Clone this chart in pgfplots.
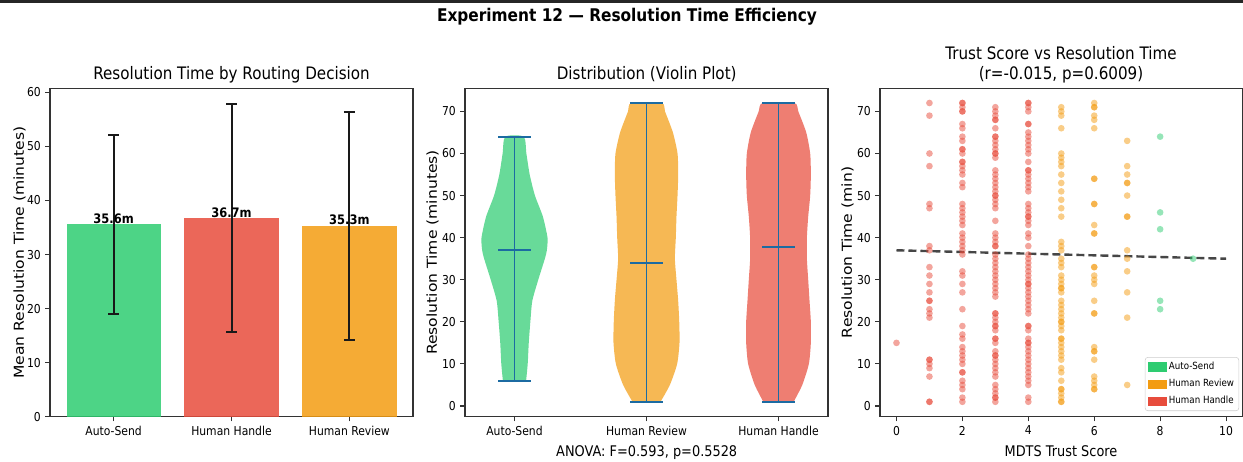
\documentclass[border=0pt]{standalone}
\usepackage{pgfplots}
\usepackage{pgfplotstable}
\pgfplotsset{compat=1.18}
\usepackage{graphicx}
\usepackage{fontspec}
\setmainfont{DejaVu Sans}[FakeStretch=0.88]
\newfontfamily\upfont{DejaVu Sans}
\definecolor{cgreen}{HTML}{2ECC71}
\definecolor{cred}{HTML}{E74C3C}
\definecolor{corange}{HTML}{F39C12}
\definecolor{cblue}{HTML}{1F77B4}
\newcommand\fs[1]{\fontsize{#1pt}{#1pt}\selectfont}

% violin outlines: resolution time y and signed half width s (x units),
% up the right side and back down the left side
\pgfplotstableread{
y s
6 0.088
10 0.100
15 0.108
20 0.120
25 0.135
30 0.180
35 0.230
37 0.245
40 0.250
45 0.215
50 0.155
55 0.115
60 0.090
64 0.070
64 -0.070
60 -0.090
55 -0.115
50 -0.155
45 -0.215
40 -0.250
37 -0.245
35 -0.230
30 -0.180
25 -0.135
20 -0.120
15 -0.108
10 -0.100
6 -0.088
}\violA
\pgfplotstableread{
y s
1 0.106
5 0.177
10 0.232
15 0.250
20 0.248
25 0.240
30 0.227
35 0.215
40 0.222
45 0.227
50 0.235
55 0.240
60 0.235
65 0.200
70 0.140
72 0.115
72 -0.115
70 -0.140
65 -0.200
60 -0.235
55 -0.240
50 -0.235
45 -0.227
40 -0.222
35 -0.215
30 -0.227
25 -0.240
20 -0.248
15 -0.250
10 -0.232
5 -0.177
1 -0.106
}\violB
\pgfplotstableread{
y s
1 0.115
5 0.180
10 0.230
15 0.245
20 0.245
25 0.235
30 0.225
35 0.215
40 0.215
45 0.225
50 0.240
55 0.245
60 0.240
65 0.210
70 0.150
72 0.120
72 -0.120
70 -0.150
65 -0.210
60 -0.240
55 -0.245
50 -0.240
45 -0.225
40 -0.215
35 -0.215
30 -0.225
25 -0.235
20 -0.245
15 -0.245
10 -0.230
5 -0.180
1 -0.115
}\violC

\pgfplotsset{
  panel/.style={
    scale only axis, width=272.25pt, height=246.5pt,
    axis line style={black!80, line width=0.8pt},
    tick align=outside, major tick length=3.4pt,
    tick style={black!80, line width=0.8pt},
    xtick pos=bottom, ytick pos=left,
    ticklabel style={font=\fs{9.2}},
    /pgf/number format/assume math mode=true,
  },
  bars/.style={ybar, bar width=0.8, bar shift=0pt, draw=none, fill opacity=0.85,
    point meta=explicit symbolic, nodes near coords,
    nodes near coords style={font=\bfseries\fs{9.8}, anchor=south, inner sep=0.6pt, text=black, fill opacity=1}},
  ebar/.style={black!90, line width=1.5pt, forget plot},
  violin/.style={fill=#1, fill opacity=0.72, draw=none, smooth, tension=0.4, forget plot},
  vline/.style={cblue!90!black, line width=1.4pt, forget plot},
  pts/.style={only marks, mark=*, mark size=2.5pt, forget plot, color=#1,
    mark options={draw opacity=0, fill=#1, fill opacity=0.5}},
}

\begin{document}
\begin{tikzpicture}[x=0.75pt, y=0.75pt]
\useasboundingbox (0,0) rectangle (1243,461);

% ---------- mean resolution time by routing decision ----------
\begin{axis}[panel, at={(37.5pt,33.2pt)}, anchor=south west,
  xmin=-0.54, xmax=2.54, ymin=0, ymax=60.8,
  xtick={0,1,2}, xticklabels={Auto-Send,Human Handle,Human Review},
  ytick={0,10,...,60}]
\addplot[fill=cgreen, bars] table[x=x, y=y, meta=lab]{
x y lab
0 35.6 35.6m
};
\addplot[fill=cred, bars] table[x=x, y=y, meta=lab]{
x y lab
1 36.7 36.7m
};
\addplot[fill=corange, bars] table[x=x, y=y, meta=lab]{
x y lab
2 35.3 35.3m
};
% error bars: mean -/+ standard deviation (16.6, 21.1, 21.1)
\addplot[ebar] coordinates {(0,19.0) (0,52.2)};
\addplot[ebar] coordinates {(-0.046,19.0) (0.046,19.0)};
\addplot[ebar] coordinates {(-0.046,52.2) (0.046,52.2)};
\addplot[ebar] coordinates {(1,15.6) (1,57.8)};
\addplot[ebar] coordinates {(0.954,15.6) (1.046,15.6)};
\addplot[ebar] coordinates {(0.954,57.8) (1.046,57.8)};
\addplot[ebar] coordinates {(2,14.2) (2,56.4)};
\addplot[ebar] coordinates {(1.954,14.2) (2.046,14.2)};
\addplot[ebar] coordinates {(1.954,56.4) (2.046,56.4)};
\end{axis}

% ---------- violin plot ----------
\begin{axis}[panel, at={(348.75pt,33.2pt)}, anchor=south west,
  xmin=0.625, xmax=3.375, ymin=-2.55, ymax=75.55,
  xtick={1,2,3}, xticklabels={Auto-Send,Human Review,Human Handle},
  ytick={0,10,...,70}]
\addplot[violin=cgreen] table[x expr={1+\thisrow{s}}, y=y]{\violA} -- cycle;
\addplot[violin=corange] table[x expr={2+\thisrow{s}}, y=y]{\violB} -- cycle;
\addplot[violin=cred] table[x expr={3+\thisrow{s}}, y=y]{\violC} -- cycle;
% extrema bars, caps and centre lines
\addplot[vline] coordinates {(1,6) (1,64)};
\addplot[vline] coordinates {(0.875,6) (1.125,6)};
\addplot[vline] coordinates {(0.875,64) (1.125,64)};
\addplot[vline] coordinates {(0.875,37) (1.125,37)};
\addplot[vline] coordinates {(2,1) (2,72)};
\addplot[vline] coordinates {(1.875,1) (2.125,1)};
\addplot[vline] coordinates {(1.875,72) (2.125,72)};
\addplot[vline] coordinates {(1.875,34) (2.125,34)};
\addplot[vline] coordinates {(3,1) (3,72)};
\addplot[vline] coordinates {(2.875,1) (3.125,1)};
\addplot[vline] coordinates {(2.875,72) (3.125,72)};
\addplot[vline] coordinates {(2.875,37.8) (3.125,37.8)};
\end{axis}

% ---------- trust score vs resolution time ----------
\begin{axis}[panel, at={(660pt,33.2pt)}, anchor=south west, width=271.9pt,
  xmin=-0.5, xmax=10.5, ymin=-2.55, ymax=75.55,
  xtick={0,2,...,10}, ytick={0,10,...,70},
  legend style={at={(1,0)}, anchor=south east, xshift=-2.6pt, yshift=4.3pt,
    font=\fs{7.4}, draw=black!20, rounded corners=2pt, fill=white,
    fill opacity=0.8, text opacity=1, inner sep=2pt,
    nodes={text height=5.6pt, text depth=1.6pt, inner sep=1.6pt}, row sep=2.4pt},
  legend cell align=left,
  legend image code/.code={\fill[#1, draw=none, sharp corners, fill opacity=1] (0pt,-3.4pt) rectangle (14.25pt,3.4pt);}]
% Human Handle
\addplot[pts=cred] coordinates {
(0,15)
(1,72)(1,69)(1,60)(1,57)(1,48)(1,47)(1,38)(1,37)(1,33)(1,31)(1,29)(1,27)(1,25)(1,25)
(1,23)(1,22)(1,21)(1,11)(1,11)(1,10)(1,9)(1,7)(1,1)(1,1)
(2,72)(2,72)(2,71)(2,70)(2,70)(2,67)(2,66)(2,64)(2,63)(2,61)(2,61)(2,60)(2,58)(2,58)
(2,57)(2,56)(2,55)(2,53)(2,52)(2,48)(2,47)(2,46)(2,45)(2,44)(2,43)(2,41)(2,40)(2,39)
(2,38)(2,37)(2,36)(2,32)(2,31)(2,29)(2,27)(2,23)(2,19)(2,17)(2,16)(2,14)(2,13)(2,12)
(2,11)(2,10)(2,8)(2,8)(2,6)(2,5)(2,4)(2,2)(2,1)
(3,71)(3,70)(3,69)(3,68)(3,68)(3,66)(3,64)(3,64)(3,63)(3,62)(3,61)(3,60)(3,60)(3,59)
(3,56)(3,55)(3,54)(3,53)(3,52)(3,51)(3,50)(3,50)(3,49)(3,48)(3,47)(3,44)(3,41)(3,40)
(3,39)(3,38)(3,38)(3,36)(3,35)(3,34)(3,33)(3,32)(3,31)(3,30)(3,29)(3,28)(3,27)(3,26)
(3,22)(3,22)(3,21)(3,20)(3,19)(3,19)(3,18)(3,16)(3,16)(3,15)(3,13)(3,12)(3,12)(3,11)
(3,10)(3,9)(3,8)(3,7)(3,5)(3,4)(3,3)(3,2)(3,2)(3,1)
(4,72)(4,72)(4,71)(4,70)(4,67)(4,67)(4,65)(4,64)(4,63)(4,62)(4,61)(4,60)(4,58)(4,56)
(4,56)(4,55)(4,54)(4,53)(4,52)(4,51)(4,48)(4,47)(4,46)(4,45)(4,45)(4,44)(4,43)(4,41)
(4,40)(4,38)(4,36)(4,35)(4,34)(4,33)(4,32)(4,31)(4,30)(4,29)(4,29)(4,28)(4,27)(4,26)
(4,25)(4,24)(4,23)(4,22)(4,19)(4,19)(4,18)(4,16)(4,15)(4,15)(4,14)(4,13)(4,12)(4,11)
(4,10)(4,9)(4,8)(4,7)(4,6)(4,5)(4,2)(4,1)
};
% Human Review
\addplot[pts=corange] coordinates {
(5,71)(5,70)(5,69)(5,66)(5,60)(5,59)(5,58)(5,57)(5,55)(5,53)(5,51)(5,49)(5,47)(5,45)
(5,39)(5,38)(5,37)(5,35)(5,34)(5,33)(5,31)(5,30)(5,29)(5,28)(5,28)(5,27)(5,25)(5,24)
(5,23)(5,22)(5,21)(5,20)(5,20)(5,19)(5,18)(5,16)(5,16)(5,15)(5,14)(5,13)(5,12)(5,11)
(5,9)(5,8)(5,6)(5,4)(5,4)(5,3)(5,2)(5,1)(5,1)
(6,72)(6,71)(6,71)(6,69)(6,68)(6,66)(6,54)(6,54)(6,48)(6,48)(6,43)(6,41)(6,41)(6,33)
(6,33)(6,31)(6,30)(6,29)(6,25)(6,22)(6,22)(6,14)(6,13)(6,13)(6,11)(6,7)(6,6)(6,5)
(6,4)(6,4)
(7,63)(7,57)(7,55)(7,53)(7,53)(7,50)(7,45)(7,45)(7,37)(7,35)(7,32)(7,27)(7,21)(7,5)
};
% Auto-Send
\addplot[pts=cgreen] coordinates {(8,64)(8,46)(8,42)(8,25)(8,23)(9,35)};
% linear fit
\addplot[black!85, opacity=0.85, line width=1.8pt, dash pattern=on 6pt off 3pt, forget plot]
  coordinates {(0,37.0) (10,35.0)};
\addlegendimage{fill=cgreen}\addlegendentry{Auto-Send}
\addlegendimage{fill=corange}\addlegendentry{Human Review}
\addlegendimage{fill=cred}\addlegendentry{Human Handle}
\end{axis}

% titles and axis labels
\draw[black!85, line width=1.9pt] (0,459.5) -- (1243,459.5);
\node[font=\bfseries\fs{13.1}, anchor=base] at (627,439) {Experiment 12 — Resolution Time Efficiency};
\node[font=\fs{12.9}, anchor=base] at (231.5,381) {Resolution Time by Routing Decision};
\node[font=\fs{12.9}, anchor=base] at (646.7,381) {Distribution (Violin Plot)};
\node[font=\fs{12.9}, anchor=base] at (1061,401) {Trust Score vs Resolution Time};
\node[font=\fs{12.9}, anchor=base] at (1061,381) {(r=-0.015, p=0.6009)};
\node[font=\fs{11}, anchor=base] at (646.7,5) {ANOVA: F=0.593, p=0.5528};
\node[font=\fs{11}, anchor=base] at (1061,5) {MDTS Trust Score};
\node[rotate=90, anchor=center] at (19.5,208.5) {\scalebox{1}[0.88]{\upfont\fs{11.7}Mean Resolution Time (minutes)}};
\node[rotate=90, anchor=center] at (432.5,208.5) {\scalebox{1}[0.88]{\upfont\fs{11.7}Resolution Time (minutes)}};
\node[rotate=90, anchor=center] at (847.5,208.5) {\scalebox{1}[0.88]{\upfont\fs{11.7}Resolution Time (min)}};
\end{tikzpicture}
\end{document}
